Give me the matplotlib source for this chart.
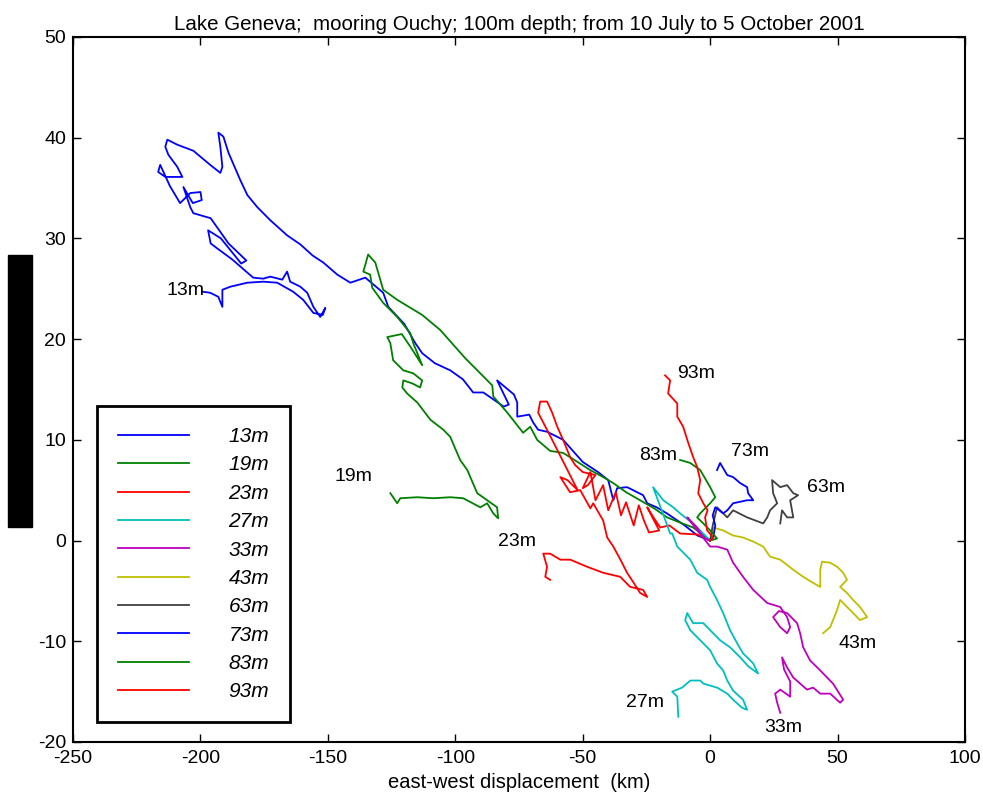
import matplotlib.pyplot as plt
from matplotlib.patches import Rectangle

plt.rcParams['font.family'] = ['Liberation Sans', 'DejaVu Sans']
plt.rcParams['axes.unicode_minus'] = False

# progressive vector paths (km), one per depth
x13 = [0, -5, -10, -17, -21, -24.7, -26.3, -32.6, -36.5, -38, -40, -44, -50, -57.7, -60, -64, -67.5, -69.4,
       -71, -75.7, -75.7, -77, -83.6, -79, -81, -85, -89, -93, -97, -102, -108, -113, -115.7, -120, -126.3,
       -128.3, -135.3, -141.2, -146.3, -151.8, -156, -160.8, -166, -172.6, -177.7, -181.6, -184.4, -189,
       -191, -193, -192.2, -191.4, -192.2, -196.2, -202.8, -209.1, -213, -213.8, -212.6, -209.1, -207.1,
       -213.8, -216.6, -215.8, -212, -208, -204, -200, -199.5, -203, -206.7, -204, -202.8, -196, -189, -182,
       -184, -192, -197, -196, -193.4, -187.5, -181.6, -179.3, -175.4, -172.6, -167.9, -166, -164.8, -160.8,
       -158.1, -155.7, -153, -151, -152, -155.7, -159.7, -163.6, -169.9, -175.4, -181.6, -188.3, -191.4,
       -191.4, -193, -196.2, -199]
y13 = [0, 0.5, 1.5, 2.7, 3.3, 3.7, 4.5, 5.3, 5.2, 4.0, 6.0, 6.8, 7.8, 10.0, 10.3, 10.8, 11.0, 11.7,
       12.5, 12.3, 13.7, 14.5, 15.9, 13.5, 13.3, 14.0, 14.7, 14.7, 16.0, 16.9, 17.6, 18.6, 19.6, 21.5, 23.2,
       24.6, 26.1, 25.6, 26.4, 27.6, 28.3, 29.4, 30.3, 31.8, 33.1, 34.3, 35.8, 38.5,
       40.1, 40.5, 39.1, 37.1, 36.5, 37.3, 38.7, 39.3, 39.8, 39.1, 38.3, 37.1, 36.1,
       36.1, 36.6, 37.3, 35.2, 33.5, 34.5, 34.6, 33.8, 33.5, 35.1, 33.1, 32.5, 32.0, 29.5, 27.8,
       27.5, 30.0, 30.8, 29.5, 29.0, 27.9, 26.6, 26.1, 26.0, 26.2, 25.9, 26.7, 25.7, 25.2,
       24.6, 23.2, 22.2, 23.1, 22.4, 22.6, 23.9, 24.7, 25.6, 25.7, 25.6, 25.2, 24.9,
       23.2, 24.2, 24.6, 24.7]

x19 = [0, -6.7, -12, -16.9, -22, -27.5, -33, -38, -42, -47.1, -52, -57.7, -62.8, -67.9, -70.6, -73.4, -79.6,
       -85.1, -85.5, -90.2, -96.1, -105.9, -113, -122.8, -128.3, -131.4, -134.2, -135.3, -136.1, -133.4,
       -132.6, -128.3, -122.8, -117.7, -116.5, -113, -117, -121, -126.7, -125.5, -124.4, -120.4, -116.5,
       -113, -113.8, -116.9, -120.4, -120.8, -118.9, -114.9, -109.8, -104.7, -102, -99.3, -98.1, -95.3,
       -91.4, -87.5, -83.6, -83.2, -85.1, -87.5, -90.2, -96.9, -102, -108.7, -114.9, -121.6, -122.8, -125.5]
y19 = [0, 1.3, 1.8, 2.3, 3.2, 4.0, 4.8, 5.7, 6.3, 7.0, 7.8, 8.7, 8.9, 10.0, 11.3, 10.7, 12.7,
       14.3, 15.4, 16.6, 18.1, 20.9, 22.4, 23.9, 24.9, 27.6, 28.4, 27.4, 26.7, 26.4,
       25.1, 23.6, 22.2, 20.6, 19.6, 17.4, 19.0, 20.5, 20.2, 19.6, 17.9, 16.9, 16.6,
       15.9, 15.2, 15.6, 15.9, 15.2, 14.6, 13.7, 12.0, 11.0, 10.3, 8.7, 8.0, 7.0,
       4.7, 4.0, 3.3, 2.2, 2.7, 3.7, 3.3, 4.2, 4.3, 4.2, 4.3, 4.2, 3.7, 4.7]

x23 = [0, -5, -11.8, -16, -19.6, -22, -24.7, -20, -24, -26, -28, -30, -33, -35, -37, -40, -42, -45, -47,
       -50, -48, -45, -50, -53, -55, -57.7, -60, -62, -64, -66.7, -67.5, -63, -58, -55, -52, -56, -58.8,
       -55, -51, -47, -45.9, -42, -40.4, -38, -35, -32.6, -30, -27.5, -24.7, -26.3, -31.4, -35.3, -42,
       -48.3, -54.9, -58.8, -62.8, -65.5, -64, -64.7, -62.8]
y23 = [0, 0.6, 0.7, 1.5, 1.3, 2.2, 3.3, 1.0, 0.8, 2.0, 3.5, 1.5, 3.8, 2.5, 4.8, 3.0, 5.5, 4.0, 6.8,
       5.2, 5.5, 6.5, 6.8, 7.5, 8.3, 10.0, 11.3, 12.7, 13.8, 13.8, 12.7, 10.5, 8.0, 6.5, 5.0, 6.0, 6.3,
       4.8, 5.0, 3.2, 3.7, 2.0, 0.3, -0.6, -2.0, -3.2, -4.2, -5.2, -5.6, -4.9, -4.6, -3.6, -3.2,
       -2.6, -1.9, -1.9, -1.3, -1.3, -2.6, -3.6, -3.9]

x27 = [0, -3.9, -7.8, -11.8, -14.5, -18.4, -22.4, -19, -15.7, -14.9, -12.9, -7.8, -5.1, -1.2, 0, 2.7, 5.1,
       7.8, 10.6, 12.9, 16.9, 18.8, 15, 11.8, 7.8, 3.9, 0, -2.7, -6.7, -9, -9.8, -7.8, -3.9, 0, 2.7, 5.1,
       6.7, 9, 12.9, 14.5, 12.5, 9, 6.7, 2.7, -2.7, -3.9, -7.8, -11, -14.9, -12.9, -12.5]
y27 = [0, 1.0, 1.9, 2.7, 3.3, 4.0, 5.3, 3.0, 0.7, 0.7, -0.6, -1.9, -3.2, -3.9, -4.6, -5.9, -7.2,
       -8.9, -10.2, -11.2, -12.2, -13.2, -12.5, -11.6, -10.6, -9.9, -8.9, -8.2, -8.2, -7.2, -7.9, -8.9,
       -9.9, -10.9, -12.2, -12.9, -13.9, -14.9, -15.8, -16.8, -16.6, -15.8, -15.2, -14.6, -14.2, -13.9,
       -13.9, -14.6, -15.0, -15.5, -17.5]

x33 = [0, -2.7, -5.1, -9, -5, 0, 2.7, 6.7, 9, 12.9, 16.9, 22.4, 27.5, 30.2, 31.4, 30.2, 27.5, 24.7, 27,
       30.2, 34.1, 35.3, 36.5, 39.2, 43.2, 48.2, 52.2, 51, 47.1, 43.2, 40.4, 38, 32.6, 30.2, 28.2, 29,
       31.4, 31.4, 27.5, 25.5, 26.3, 27.5]
y33 = [0, 0.3, 1.3, 2.3, 1.0, -0.6, -0.6, -0.9, -2.2, -3.6, -4.9, -6.2, -6.6, -7.6, -8.6, -9.2, -8.6,
       -7.6, -7.0, -7.2, -8.2, -9.2, -10.6, -11.9, -12.9, -14.2, -15.8, -16.1, -15.2, -15.2, -14.6, -14.8,
       -13.6, -12.6, -11.6, -12.8, -14.0, -15.5, -14.8, -15.2, -16.1, -17.1]

x43 = [0, 1.2, 5.1, 9, 12.9, 16.9, 20.8, 23.5, 27.5, 32.6, 36.5, 40.4, 43.2, 43.2, 43.9, 47.1, 49.8, 52.2,
       53.7, 51, 53.7, 56.1, 58.8, 61.6, 58.8, 56.1, 51, 49.8, 48.2, 47.1, 44.3]
y43 = [0, 1.3, 1.0, 0.5, 0.3, -0.1, -0.6, -1.6, -1.9, -2.9, -3.6, -4.2, -4.6, -2.9, -2.1, -2.2, -2.6, -3.2,
       -3.9, -4.6, -5.2, -5.9, -6.6, -7.6, -7.9, -7.2, -5.9, -6.9, -7.9, -8.6, -9.2]

x63 = [0, 1, 2.7, 6.7, 9, 14.5, 20.8, 22.4, 23.5, 26.3, 24.7, 24.3, 27.5, 30.2, 32.6, 34.5, 31.4, 32.6,
       30.2, 28.2, 27.5]
y63 = [0, 1.5, 3.3, 2.3, 3.0, 2.3, 1.7, 2.3, 3.0, 3.7, 4.7, 6.0, 5.3, 5.5, 4.7, 4.5, 4.0, 2.3, 2.3,
       3.0, 1.7]

x73 = [0, 1.2, 2, 1, 2, 5.1, 6.7, 9, 14.5, 16.9, 14.9, 14.5, 11.8, 9, 6.7, 3.9, 2.7]
y73 = [0, 0.3, 1.5, 2.5, 3.3, 2.7, 3.0, 3.7, 4.0, 4.0, 4.7, 5.3, 5.7, 6.3, 6.5, 7.7, 7.0]

x83 = [0, 2.7, 0, -2.7, -5.1, -3.9, 0, 2, 0, -3.9, -7.8, -11.8]
y83 = [0, 0.2, 1.0, 1.7, 2.3, 2.7, 3.7, 4.3, 5.3, 7.0, 7.7, 8.0]

x93 = [0, 1.2, -1.2, -2.0, -1.0, -2.7, -4.7, -3.9, -5.1, -6.7, -8.6, -10.6, -12.9, -12.9, -16.5, -15.7, -17.7]
y93 = [0, 0.3, 1.0, 2.3, 3.0, 3.7, 4.7, 6.0, 7.3, 8.3, 9.7, 11.3, 12.3, 13.6, 14.6, 15.9, 16.4]

depths = ['13m', '19m', '23m', '27m', '33m', '43m', '63m', '73m', '83m', '93m']
paths = [(x13, y13), (x19, y19), (x23, y23), (x27, y27), (x33, y33),
         (x43, y43), (x63, y63), (x73, y73), (x83, y83), (x93, y93)]
colors = ['#0000ff', '#008000', '#ff0000', '#00bfbf', '#bf00bf',
          '#bfbf00', '#404040', '#0000ff', '#008000', '#ff0000']

# depth label positions on the plot
lab_x = [-206, -140, -75.7, -25.5, 28.6, 58, 45.5, 15.7, -20.4, -5.5]
lab_y = [24.8, 6.4, -0.1, -16.1, -18.6, -10.2, 5.3, 8.8, 8.4, 16.6]

fig = plt.figure(figsize=(9.83, 7.94), dpi=100)
ax = fig.add_axes([0.0743, 0.0655, 0.9074, 0.888])

for (xs, ys), c, d in zip(paths, colors, depths):
    ax.plot(xs, ys, color=c, lw=1.3, label=d)

for d, lx, ly in zip(depths, lab_x, lab_y):
    ax.text(lx, ly, d, fontsize=14, ha='center', va='center')

ax.set_xlim(-250, 100)
ax.set_ylim(-20, 50)
ax.set_xticks(range(-250, 101, 50))
ax.set_yticks(range(-20, 51, 10))
ax.tick_params(direction='in', top=True, right=True, labelsize=14, length=6, width=1)
ax.tick_params(axis='x', pad=6)
ax.tick_params(axis='y', pad=5)
for s in ax.spines.values():
    s.set_linewidth(1.5)

ax.set_title('Lake Geneva;  mooring Ouchy; 100m depth; from 10 July to 5 October 2001',
             fontsize=14.8, pad=5)
ax.set_xlabel('east-west displacement  (km)', fontsize=14.5, labelpad=4)

leg = ax.legend(loc='lower left', bbox_to_anchor=(0.027, 0.028), borderaxespad=0,
                prop={'style': 'italic', 'size': 15}, handlelength=3.4,
                handletextpad=1.9, labelspacing=0.45, borderpad=1.0,
                fancybox=False, framealpha=1, edgecolor='black')
leg.get_frame().set_linewidth(2)

# redacted y-axis label block
fig.patches.append(Rectangle((8 / 983, 1 - 527 / 794), 24 / 983, 272 / 794,
                             transform=fig.transFigure, color='black', zorder=5))

fig.savefig('out.png', dpi=100)
